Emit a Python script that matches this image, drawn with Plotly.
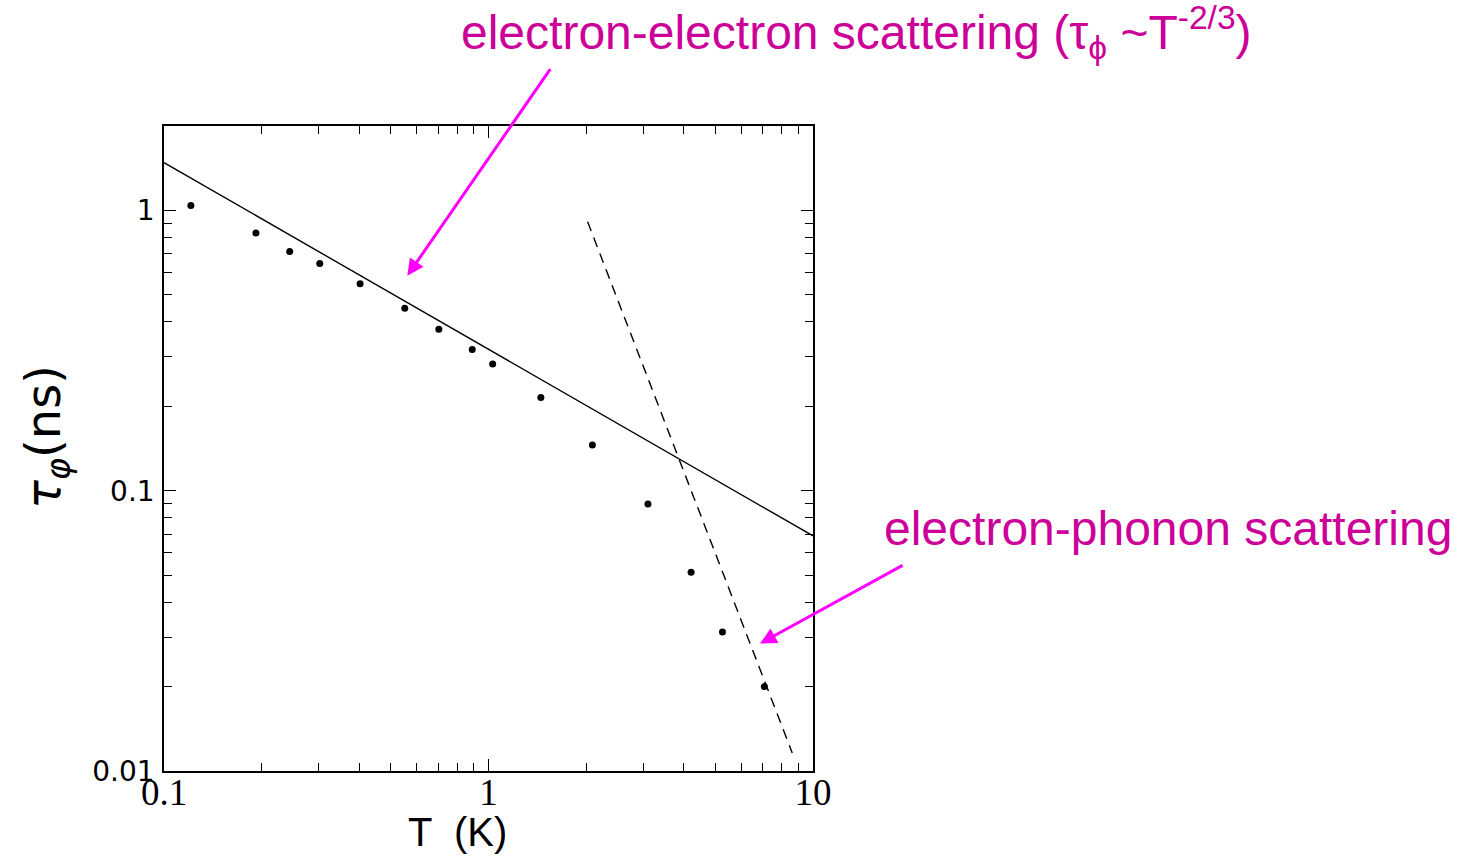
import plotly.graph_objects as go

# Measured dephasing time vs temperature
T_data = [0.121, 0.192, 0.244, 0.302, 0.402, 0.552, 0.703, 0.891, 1.03,
          1.45, 2.09, 3.10, 4.21, 5.26, 7.08]
tau_data = [1.04, 0.831, 0.713, 0.647, 0.547, 0.448, 0.377, 0.319, 0.283,
            0.215, 0.1455, 0.0897, 0.0512, 0.0313, 0.020]

# Electron-electron fit (tau ~ T^-2/3), end points
ee_T = [0.1, 10.0]
ee_tau = [1.48, 0.069]

# Electron-phonon fit (tau ~ T^-3), end points
ep_T = [2.02, 8.63]
ep_tau = [0.911, 0.0116]

x_ticks = [0.1, 1, 10]
x_ticktext = ["0.1", "1", "10"]
y_ticks = [0.01, 0.1, 1]
y_ticktext = ["0.01", "0.1", "1"]
x_minor = [0.2, 0.3, 0.4, 0.5, 0.6, 0.7, 0.8, 0.9, 2, 3, 4, 5, 6, 7, 8, 9]
y_minor = [0.02, 0.03, 0.04, 0.05, 0.06, 0.07, 0.08, 0.09,
           0.2, 0.3, 0.4, 0.5, 0.6, 0.7, 0.8, 0.9]

TEXT_PINK = "#CC0099"
ARROW_PINK = "#FF00FF"

fig = go.Figure()
fig.add_trace(go.Scatter(x=ee_T, y=ee_tau, mode="lines",
                         line=dict(color="black", width=1.4), showlegend=False))
fig.add_trace(go.Scatter(x=ep_T, y=ep_tau, mode="lines",
                         line=dict(color="black", width=1.4, dash="10px,7px"),
                         showlegend=False))
fig.add_trace(go.Scatter(x=T_data, y=tau_data, mode="markers",
                         marker=dict(color="black", size=7), showlegend=False))

axis_common = dict(
    type="log", showgrid=False, zeroline=False,
    showline=True, linecolor="black", linewidth=1.5, mirror="ticks",
    ticks="inside", ticklen=12, tickwidth=1.3, tickcolor="black",
    minor=dict(tickmode="array", ticks="inside", ticklen=8, tickwidth=1.3,
               tickcolor="black", showgrid=False),
)

fig.update_xaxes(**axis_common, range=[-1, 1], tickmode="array",
                 tickvals=x_ticks, ticktext=x_ticktext,
                 tickfont=dict(family="Liberation Serif", size=37, color="black"),
                 ticklabelstandoff=-12)
fig.update_xaxes(minor_tickvals=x_minor)
fig.update_yaxes(**axis_common, range=[-2, 0.30103], tickmode="array",
                 tickvals=y_ticks, ticktext=y_ticktext,
                 tickfont=dict(family="DejaVu Sans", size=28, color="black"),
                 ticklabelstandoff=2)
fig.update_yaxes(minor_tickvals=y_minor)

annotations = [
    # axis titles
    dict(text="T  (K)", xref="paper", yref="paper", x=0.453, y=-0.0945,
         xanchor="center", yanchor="middle", showarrow=False,
         font=dict(family="Liberation Sans", size=40, color="black")),
    dict(text="<i>τ</i><sub><i>φ</i></sub>(ns)", xref="paper", yref="paper",
         x=-0.18, y=0.518, xanchor="center", yanchor="middle", textangle=-90,
         showarrow=False,
         font=dict(family="DejaVu Sans", size=48, color="black")),
    # labels
    dict(text="electron-electron scattering (τ<sub>ϕ</sub> ~T<sup>-2/3</sup>)",
         xref="paper", yref="paper", x=0.4545, y=1.1457,
         xanchor="left", yanchor="middle", showarrow=False,
         font=dict(family="Liberation Sans", size=48, color=TEXT_PINK)),
    dict(text="electron-phonon scattering",
         xref="paper", yref="paper", x=1.1063, y=0.3767,
         xanchor="left", yanchor="middle", showarrow=False,
         font=dict(family="Liberation Sans", size=48, color=TEXT_PINK)),
    # arrows
    dict(text="", x=-0.2502, y=-0.233, xref="x", yref="y",
         ax=144, ay=-208, showarrow=True, arrowhead=2, arrowsize=1.1,
         arrowwidth=3, arrowcolor=ARROW_PINK),
    dict(text="", x=0.8367, y=-1.5455, xref="x", yref="y",
         ax=144, ay=-79, showarrow=True, arrowhead=2, arrowsize=1.1,
         arrowwidth=3, arrowcolor=ARROW_PINK),
]

fig.update_layout(
    width=1462, height=857,
    margin=dict(l=164, r=649, t=126, b=86),
    paper_bgcolor="white", plot_bgcolor="white",
    annotations=annotations,
    showlegend=False,
)

fig.write_html("out.html")
